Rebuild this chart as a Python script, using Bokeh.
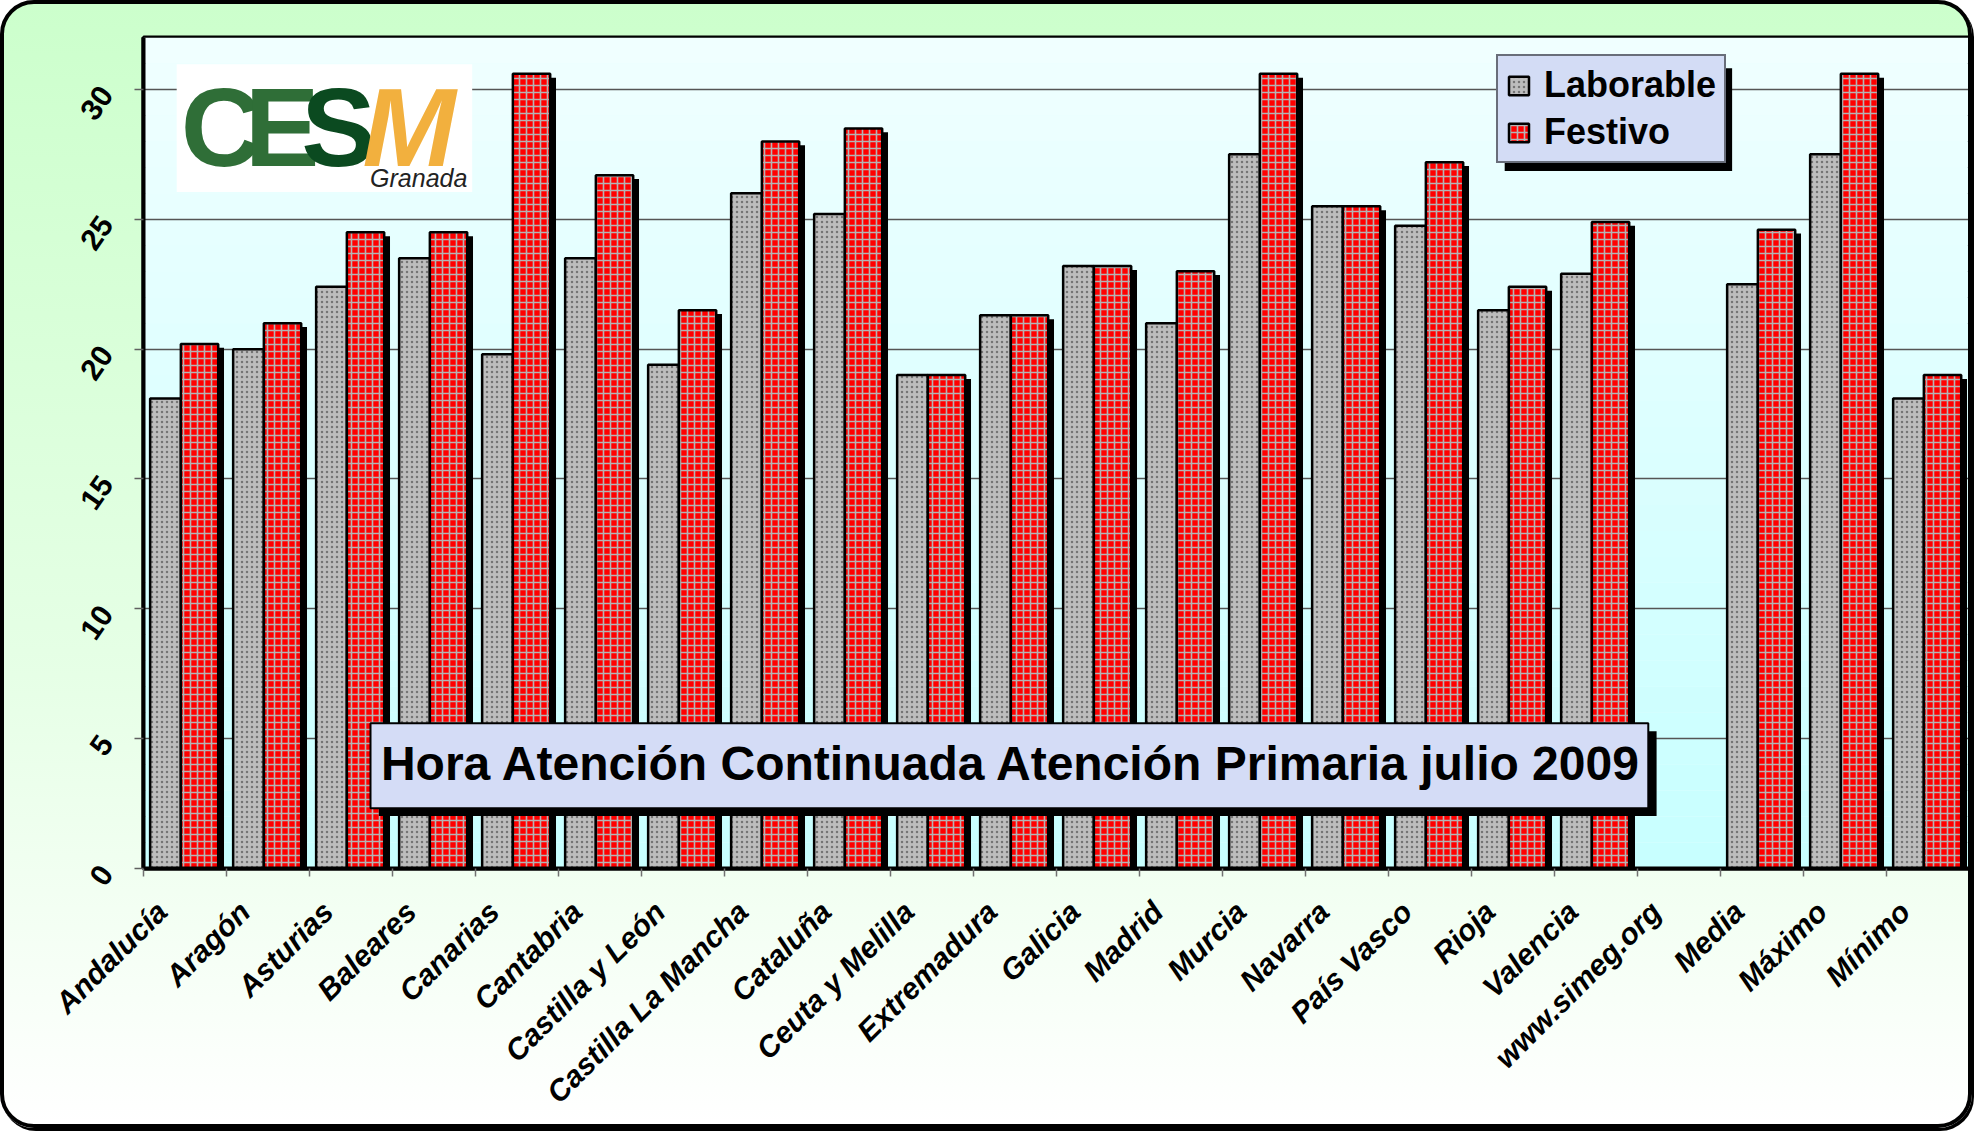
import math
import numpy as np
from bokeh.plotting import figure
from bokeh.models import (Range1d, FixedTicker, Legend, LegendItem)
from bokeh.core.properties import value
from bokeh.embed import file_html
from bokeh.resources import INLINE

# ---------------- data ----------------
categories = ["Andalucía", "Aragón", "Asturias", "Baleares", "Canarias", "Cantabria",
              "Castilla y León", "Castilla La Mancha", "Cataluña", "Ceuta y Melilla",
              "Extremadura", "Galicia", "Madrid", "Murcia", "Navarra", "País Vasco",
              "Rioja", "Valencia", "www.simeg.org", "Media", "Máximo", "Mínimo"]
laborable = [18.1, 20.0, 22.4, 23.5, 19.8, 23.5, 19.4, 26.0, 25.2, 19.0, 21.3, 23.2,
             21.0, 27.5, 25.5, 24.75, 21.5, 22.9, float("nan"), 22.5, 27.5, 18.1]
festivo = [20.2, 21.0, 24.5, 24.5, 30.6, 26.7, 21.5, 28.0, 28.5, 19.0, 21.3, 23.2,
           23.0, 30.6, 25.5, 27.2, 22.4, 24.9, float("nan"), 24.6, 30.6, 19.0]
y_ticks = [0, 5, 10, 15, 20, 25, 30]
title_text = "Hora Atención Continuada Atención Primaria julio 2009"
series_names = ["Laborable", "Festivo"]

FONT = "Liberation Sans"
n = len(categories)
idx = np.arange(n)

p = figure(width=1972, height=1128, output_backend="svg", toolbar_location=None,
           x_range=Range1d(0, n), y_range=Range1d(0, 32),
           min_border_left=139, min_border_right=7, min_border_top=33, min_border_bottom=264)
p.styles = {"border": "4px solid black", "border-radius": "34px",
            "background": "linear-gradient(to bottom, #ccffcc 0%, #e6ffe6 60%, #ffffff 100%)",
            "box-shadow": "2px 3px 0px #000000"}
p.border_fill_alpha = 0
p.background_fill_color = "#e6ffff"
p.outline_line_color = "black"
p.outline_line_width = 4

# plot area vertical gradient (decoration)
nb = 32
c_top = np.array([0xf0, 0xff, 0xff])
c_bot = np.array([0xc8, 0xff, 0xff])
band_cols = []
for k in range(nb):
    t = k / (nb - 1)
    c = (c_bot * (1 - t) + c_top * t).astype(int)
    band_cols.append("#%02x%02x%02x" % tuple(c))
bands = p.quad(left=0, right=n, bottom=np.arange(nb), top=np.arange(nb) + 1,
               fill_color=band_cols, line_color=None)
bands.level = "image"

# bars
lab_x = idx + 0.265
fest_x = idx + 0.675
bw_lab = 0.37
bw_fest = 0.45
lab = np.array(laborable)
fes = np.array(festivo)

p.vbar(x=lab_x + 0.07, width=bw_lab, top=lab - 0.15, bottom=0,
       fill_color="black", line_color=None)
lab_r = p.vbar(x=lab_x, width=bw_lab, top=lab, bottom=0,
               fill_color="#bdbdbd", line_color="black", line_width=2.5,
               hatch_pattern="dot", hatch_color="#555555", hatch_scale=5,
               hatch_weight=1.6, hatch_alpha=0.7)
p.vbar(x=fest_x + 0.07, width=bw_fest, top=fes - 0.15, bottom=0,
       fill_color="black", line_color=None)
fes_r = p.vbar(x=fest_x, width=bw_fest, top=fes, bottom=0,
               fill_color="#ff0000", line_color="black", line_width=2.5,
               hatch_pattern="cross", hatch_color="#b4b4b4", hatch_scale=7,
               hatch_weight=1.6)

# axes / grid
p.ygrid.grid_line_color = "#555555"
p.ygrid.grid_line_width = 1.5
p.ygrid.ticker = FixedTicker(ticks=y_ticks)
p.xgrid.grid_line_color = None

ya = p.yaxis[0]
ya.ticker = FixedTicker(ticks=y_ticks)
ya.axis_line_color = "black"
ya.axis_line_width = 4
ya.major_tick_line_color = "#606060"
ya.major_tick_line_width = 1.5
ya.major_tick_out = 9
ya.major_tick_in = 0
ya.minor_tick_line_color = None
ya.major_label_orientation = 0.96
ya.major_label_text_font = FONT
ya.major_label_text_font_style = "bold"
ya.major_label_text_font_size = "30px"
ya.major_label_text_color = "black"
ya.major_label_standoff = 28

xa = p.xaxis[0]
label_pos = [float(i) + 0.22 for i in idx]
xa.ticker = FixedTicker(ticks=label_pos, minor_ticks=[float(i) for i in range(n + 1)])
xa.major_label_overrides = {pos: name for pos, name in zip(label_pos, categories)}
xa.axis_line_color = "black"
xa.axis_line_width = 4
xa.major_tick_line_color = None
xa.minor_tick_line_color = "#707070"
xa.minor_tick_line_width = 1.5
xa.minor_tick_out = 8
xa.minor_tick_in = 0
xa.major_label_orientation = math.pi / 4
xa.major_label_text_font = FONT
xa.major_label_text_font_style = "bold italic"
xa.major_label_text_font_size = "30px"
xa.major_label_text_color = "black"
xa.major_label_standoff = 30

# title box
p.quad(left=2.835, right=18.23, bottom=2.02, top=5.29, fill_color="black", line_color=None)
p.quad(left=2.735, right=18.13, bottom=2.32, top=5.59, fill_color="#d4dcf6",
       line_color="black", line_width=2)
p.text(x=[10.46], y=[4.03], text=[title_text], text_align="center",
       text_baseline="alphabetic", text_font=value(FONT), text_font_style="bold",
       text_font_size="48px", text_color="black")

# legend shadow
p.quad(left=16.40, right=19.14, bottom=26.86, top=30.82, fill_color="black", line_color=None)

# logo (decoration)
p.quad(left=0.40, right=3.96, bottom=26.05, top=30.97, fill_color="white", line_color=None)
logo_letters = ["C", "E", "S", "M"]
logo_x = [0.45, 1.22, 1.90, 2.64]
logo_cols = ["#2f6e37", "#2f6e37", "#0b4a20", "#f2b03e"]
logo_style = ["bold", "bold", "bold", "bold italic"]
for lx, lt, lc, ls in zip(logo_x, logo_letters, logo_cols, logo_style):
    p.text(x=[lx], y=[28.55], text=[lt], text_color=lc,
           text_font=value(FONT), text_font_style=ls, text_font_size="112px",
           text_baseline="alphabetic", text_align="left")
p.text(x=[2.73], y=[26.6], text=["Granada"], text_color="#222222",
       text_font=value(FONT), text_font_style="italic", text_font_size="25px",
       text_baseline="alphabetic", text_align="left")

# legend
legend = Legend(items=[LegendItem(label=series_names[0], renderers=[lab_r]),
                       LegendItem(label=series_names[1], renderers=[fes_r])],
                location=(1353, 705))
legend.margin = 0
legend.padding = 8
legend.spacing = 5
legend.glyph_width = 25
legend.glyph_height = 23
legend.label_standoff = 13
legend.label_text_font = FONT
legend.label_text_font_style = "bold"
legend.label_text_font_size = "36px"
legend.label_text_color = "black"
legend.background_fill_color = "#d3dcf5"
legend.background_fill_alpha = 1
legend.border_line_color = "black"
legend.border_line_width = 2
p.add_layout(legend)

open("out.html", "w").write(file_html(p, INLINE))
